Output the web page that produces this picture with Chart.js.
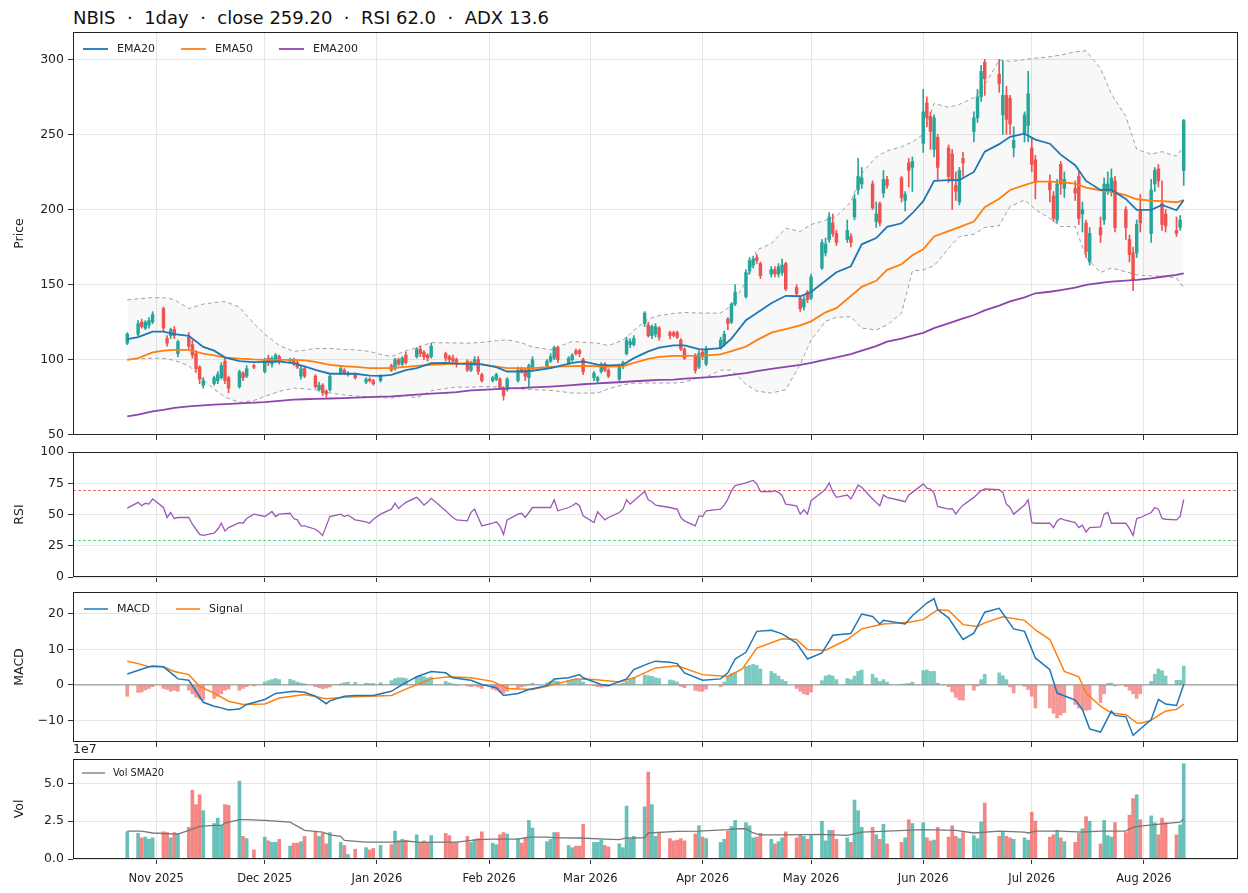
<!DOCTYPE html>
<html>
<head>
<meta charset="utf-8">
<title>NBIS 1day</title>
<script src="https://cdn.jsdelivr.net/npm/chart.js@4.4.1/dist/chart.umd.min.js"></script>
<style>
  html, body { margin: 0; padding: 0; background: #fff; }
  body { width: 1248px; height: 893px; position: relative; overflow: hidden; font-family: "DejaVu Sans", sans-serif; }
  .panel { position: absolute; left: 0; width: 1248px; }
  #title { position: absolute; left: 73px; top: 7px; font-size: 18px; line-height: 22px; color: #111; white-space: pre; }
</style>
</head>
<body>
<div id="title">NBIS  ·  1day  ·  close 259.20  ·  RSI 62.0  ·  ADX 13.6</div>
<div class="panel" style="top:0;height:445px"><canvas id="priceChart"></canvas></div>
<div class="panel" style="top:440px;height:145px"><canvas id="rsiChart"></canvas></div>
<div class="panel" style="top:580px;height:170px"><canvas id="macdChart"></canvas></div>
<div class="panel" style="top:740px;height:153px"><canvas id="volChart"></canvas></div>
<script>
// x values are calendar days counted from 2025-10-01
const X_MIN = 8, X_MAX = 330;
const monthDays = [31, 61, 92, 123, 151, 182, 212, 243, 273, 304];
const monthLabels = ['Nov 2025', 'Dec 2025', 'Jan 2026', 'Feb 2026', 'Mar 2026',
                     'Apr 2026', 'May 2026', 'Jun 2026', 'Jul 2026', 'Aug 2026'];

// trading days, one row per week
const tradeDays = [
  23,
  26, 27, 28, 29, 30,   33, 34, 35, 36, 37,   40, 41, 42, 43, 44,   47, 48, 49, 50, 51,
  54, 55, 56, 58,       61, 62, 63, 64, 65,   68, 69, 70, 71, 72,   75, 76, 77, 78, 79,
  82, 83, 84, 86,       89, 90, 91, 93,       96, 97, 98, 99, 100,  103, 104, 105, 106, 107,
  111, 112, 113, 114,   117, 118, 119, 120, 121,   124, 125, 126, 127, 128,   131, 132, 133, 134, 135,
  139, 140, 141, 142,   145, 146, 147, 148, 149,   152, 153, 154, 155, 156,   159, 160, 161, 162, 163,
  166, 167, 168, 169, 170,   173, 174, 175, 176, 177,   180, 181, 182, 183,   187, 188, 189, 190, 191,
  194, 195, 196, 197, 198,   201, 202, 203, 204, 205,   208, 209, 210, 211, 212,   215, 216, 217, 218, 219,
  222, 223, 224, 225, 226,   229, 230, 231, 232, 233,   237, 238, 239, 240,   243, 244, 245, 246, 247,
  250, 251, 252, 253, 254,   257, 258, 259, 260,   264, 265, 266, 267, 268,   271, 272, 273, 274,
  278, 279, 280, 281, 282,   285, 286, 287, 288, 289,   292, 293, 294, 295, 296,   299, 300, 301, 302, 303,
  306, 307, 308, 309, 310,   313, 314, 315
];
const openPx = [
  111,
  117, 125, 121, 123, 125,   134, 114, 116, 120, 104,   115, 110, 104, 95, 83,   84, 86, 88, 99, 88,
  82, 91, 89, 96,            92, 101, 97, 99, 102,     99, 100, 98, 89, 94,    89, 80, 83, 79, 80,
  91, 93, 90, 90,            85, 87, 86, 86,           96, 94, 100, 97, 103,   102, 107, 105, 103, 102,
  104, 102, 101, 100,        99, 93, 97, 100, 90,      86, 87, 87, 81, 80,     86, 94, 93, 88, 94,
  96, 99, 101, 108,          98, 100, 106, 106, 100,   88, 86, 92, 97, 93,     87, 96, 104, 110, 110,
  124, 123, 116, 117, 121,   118, 118, 118, 113, 107,  103, 95, 105, 97,       108, 110, 127, 125, 137,
  142, 159, 163, 168, 164,   157, 160, 157, 158, 164,  148, 141, 135, 145, 141, 161, 171, 180, 191, 184,
  180, 182, 195, 213, 217,   217, 192, 204, 211, 220,  221, 206, 231, 228,     244, 271, 262, 240, 248,
  241, 237, 216, 205, 234,   252, 261, 275, 298,       290, 263, 276, 274, 241, 251, 256, 241, 233,
  218, 209, 193, 230, 214,   214, 222, 197, 191, 165,  188, 193, 213, 213, 219, 200, 180, 171, 171, 199,
  184, 217, 227, 204, 197,   186, 188, 226
];
const highPx = [
  118,
  126, 127, 126, 128, 132,   135, 116, 121, 122, 113,   118, 113, 106, 96, 88,   89, 92, 98, 101, 89,
  93, 92, 96, 97,            101, 103, 102, 104, 103,  101, 101, 99, 96, 95,   90, 85, 84, 80, 90,
  96, 94, 92, 91,            88, 88, 87, 90,           97, 101, 101, 102, 105, 108, 109, 106, 104, 111,
  105, 103, 103, 101,        100, 99, 102, 102, 91,    89, 91, 88, 82, 88,     95, 95, 94, 97, 102,
  100, 104, 109, 109,        102, 104, 107, 107, 101,  92, 89, 98, 98, 94,     97, 99, 115, 114, 116,
  132, 125, 123, 124, 122,   119, 119, 119, 114, 108,  104, 106, 107, 109,     115, 119, 128, 138, 150,
  160, 168, 169, 170, 165,   162, 162, 164, 167, 165,  150, 142, 142, 146, 157, 180, 181, 198, 197, 186,
  193, 184, 210, 234, 228,   219, 205, 205, 226, 222,  222, 212, 234, 235,     280, 275, 265, 263, 250,
  243, 240, 225, 228, 238,   265, 280, 296, 300,       300, 299, 282, 276, 255, 265, 292, 248, 236,
  223, 212, 220, 232, 225,   219, 225, 205, 193, 188,  195, 221, 225, 227, 222, 202, 183, 175, 193, 210,
  220, 228, 230, 219, 200,   195, 196, 260
];
const lowPx = [
  110,
  116, 121, 120, 121, 124,   119, 109, 114, 114, 102,   107, 101, 92, 84, 81,   83, 84, 87, 84, 78,
  81, 86, 88, 94,            91, 96, 95, 98, 97,       98, 96, 94, 87, 88,     81, 79, 76, 75, 79,
  90, 90, 89, 87,            84, 85, 83, 85,           92, 93, 96, 96, 97,     101, 102, 100, 99, 101,
  99, 98, 97, 95,            92, 92, 96, 90, 85,       85, 86, 80, 73, 79,     85, 91, 86, 82, 93,
  95, 98, 100, 98,           97, 99, 103, 102, 90,     86, 84, 91, 92, 88,     86, 94, 103, 108, 109,
  122, 115, 114, 115, 113,   114, 115, 114, 106, 100,  91, 94, 100, 96,        107, 109, 120, 124, 136,
  141, 157, 161, 164, 154,   155, 155, 155, 156, 146,  142, 132, 133, 138, 140, 160, 169, 178, 182, 176,
  178, 175, 193, 210, 214,   200, 188, 189, 208, 214,  205, 199, 215, 212,     238, 255, 240, 235, 220,
  218, 200, 206, 203, 222,   245, 258, 272, 276,       278, 250, 250, 250, 235, 245, 245, 225, 207,
  205, 192, 191, 210, 208,   206, 190, 185, 168, 163,  178, 190, 210, 209, 185, 180, 165, 146, 168, 185,
  178, 212, 215, 186, 185,   182, 186, 216
];
const closePx = [
  117,
  124, 122, 125, 126, 130,   121, 111, 120, 116, 112,   109, 103, 94, 87, 86,   88, 90, 96, 86, 81,
  92, 88, 94, 95,            100, 98, 101, 103, 99,    100, 98, 95, 94, 89,    82, 83, 78, 77, 89,
  94, 91, 91, 88,            87, 86, 84, 89,           93, 100, 97, 101, 98,   107, 104, 102, 101, 109,
  101, 100, 99, 97,          93, 98, 100, 92, 86,      88, 90, 81, 76, 87,     93, 92, 89, 96, 100,
  99, 102, 108, 100,         101, 103, 104, 104, 92,   91, 88, 97, 93, 89,     95, 98, 113, 112, 114,
  131, 116, 122, 122, 115,   116, 116, 115, 107, 101,  93, 104, 102, 107,      113, 117, 124, 137, 145,
  158, 166, 167, 166, 156,   160, 157, 162, 163, 147,  144, 134, 140, 140, 155, 178, 177, 195, 184, 178,
  186, 178, 207, 222, 221,   201, 197, 191, 220, 216,  208, 210, 226, 232,     265, 261, 252, 261, 228,
  222, 219, 212, 226, 231,   261, 275, 292, 287,       284, 276, 260, 257, 246, 263, 277, 230, 218,
  213, 194, 217, 217, 220,   211, 194, 200, 172, 184,  183, 217, 217, 221, 188, 188, 170, 153, 190, 191,
  213, 226, 219, 190, 189,   184, 193, 259.2
];
// volume in units of 1e7
const volume = [
  1.8,
  1.7, 1.4, 1.45, 1.3, 1.4,    1.8, 1.75, 1.4, 1.75, 1.7,   2.1, 4.55, 3.6, 4.25, 3.2,   2.35, 2.7, 2.2, 3.6, 3.55,
  5.15, 1.5, 1.35, 0.6,        1.45, 1.2, 1.1, 1.1, 1.3,    0.85, 1.05, 1.05, 1.15, 1.5, 1.8, 1.5, 1.7, 1.0, 1.75,
  1.1, 0.9, 0.3, 0.65,         0.75, 0.6, 0.7, 0.9,         0.95, 1.85, 1.2, 1.3, 1.2,   1.6, 1.1, 1.2, 1.1, 1.55,
  1.7, 1.55, 1.1, 1.1,         1.5, 1.1, 1.3, 1.35, 1.8,    1.05, 0.95, 1.6, 1.75, 1.65, 1.35, 1.05, 1.4, 2.55, 2.05,
  1.15, 1.3, 1.75, 1.75,       0.9, 0.75, 0.85, 0.85, 2.3,  1.1, 1.1, 1.25, 0.9, 0.8,    1.0, 0.75, 3.5, 1.3, 1.5,
  3.45, 5.75, 3.6, 1.5, 1.7,   1.35, 1.2, 1.25, 1.35, 1.2,  1.65, 2.2, 1.45, 1.35,       1.1, 1.3, 1.85, 2.15, 2.55,
  2.4, 2.2, 1.4, 1.45, 1.7,    1.3, 1.0, 1.15, 1.4, 1.8,    1.4, 1.6, 1.5, 1.3, 1.55,    2.5, 1.2, 1.9, 1.9, 1.3,
  1.4, 1.1, 3.9, 3.2, 2.1,     2.1, 1.6, 1.3, 2.3, 1.0,     1.1, 1.4, 2.6, 2.35,         2.4, 1.4, 1.2, 1.25, 2.1,
  1.45, 2.2, 1.5, 1.35, 1.75,  1.55, 1.35, 2.45, 3.7,       1.5, 1.8, 1.5, 1.4, 1.3,     1.4, 1.25, 3.1, 2.5,
  1.45, 1.6, 1.9, 1.4, 1.15,   1.1, 1.7, 2.0, 2.8, 2.5,     1.0, 2.55, 1.55, 1.45, 2.4,  1.75, 2.9, 4.0, 4.25, 2.6,
  2.85, 2.4, 1.6, 2.7, 2.4,    1.6, 2.25, 6.3
];
const rsiVals = [
  55.1,
  59.7, 57, 59, 58.3, 62.4,    55.6, 47.6, 51.6, 46.8, 47.6,  47.6, 42.2, 38.2, 34.1, 33.3,  35, 38.2, 43, 36.8, 39.5,
  43.5, 43, 46.8, 50.3,        48.4, 50.3, 52.4, 48.4, 50.3,  51, 46.8, 45.7, 40.9, 40.9,    38.2, 36, 33.3, 40.9, 48.4,
  50.3, 48.4, 49.5, 45.7,      44.1, 43, 46.2, 50.3,          54.3, 59.1, 54.8, 57.5, 59.7,  63.7, 61, 57.5, 59.7, 62.9,
  53, 50.3, 47.6, 45.7,        44.9, 51.6, 54.3, 47.6, 40.9,  43, 44.1, 40.9, 34.1, 45.7,    50.3, 51, 47.6, 51.6, 55.6,
  55.6, 55.6, 61.8, 53,        55.6, 57, 59.1, 57, 48.9,      43.5, 52.2, 48.9, 45.7, 47.6,  51.6, 54.3, 61.8, 58.3, 61,
  68.3, 61.8, 60.2, 57.5, 57,  55.6, 54.8, 54.3, 47.6, 44.9,  40.9, 48.9, 48.4, 53,          54.3, 57.5, 62.4, 69.1, 73.1,
  75.3, 76.3, 77.2, 74.5, 68.3, 68.3, 69.1, 67.7, 65, 58.3,   57, 50.3, 53.8, 50.3, 61,      67.7, 70.4, 75.3, 68.3, 63.7,
  65.6, 62.4, 67.7, 73.7, 71.8, 62.4, 59.7, 57, 65.6, 63.7,   61, 60.2, 65.6, 67.7,          74.5, 71, 70.4, 67.2, 56.5,
  54.3, 54.8, 50.3, 54.3, 57.5, 63.7, 66.4, 69.1, 70.4,       69.9, 67.7, 58.3, 55.6, 50.3,  57.5, 61.8, 43.5, 43,
  43, 39.5, 44.9, 46.8, 45.7,  43.5, 39.5, 41.4, 36, 39.5,    40.1, 50.3, 51.6, 43, 43,      43, 38.7, 33.3, 46.8, 47.6,
  51.6, 55.6, 54.3, 46.8, 46.2, 45.7, 48.4, 62.0
];
const rsiLevels = [70, 30];
const rsiLevelColors = ['#e74c3c', '#2ecc71'];
const macdHist = [
  -3.2,
  -2.1, -2.0, -1.4, -1.0, -0.5,  -1.0, -1.3, -1.8, -1.5, -1.8,  -1.5, -2.5, -3.5, -4.0, -4.3,  -3.8, -3.2, -2.5, -1.5, -1.2,
  -1.5, -1.0, -0.5, -0.3,        0.8, 1.2, 1.5, 1.8, 1.5,       1.6, 1.2, 0.8, 0.5, 0.3,       -0.5, -0.8, -1.1, -0.9, -0.6,
  0.3, 0.6, 0.8, 0.7,            0.5, 0.4, 0.4, 0.6,            1.2, 1.8, 2.0, 2.0, 1.8,       2.2, 2.5, 2.3, 2.0, 2.2,
  1.0, 0.6, 0.3, -0.2,           -0.3, -0.5, -0.3, -0.6, -1.0,  -1.2, -1.5, -2.0, -2.4, -1.8,  -1.0, -0.6, -0.3, 0.2, 0.5,
  0.6, 0.9, 1.2, 1.0,            1.3, 1.5, 1.6, 1.4, 0.8,       -0.2, -0.5, -0.6, -0.4, -0.3,  0.2, 0.5, 1.0, 1.5, 2.0,
  2.8, 2.6, 2.4, 2.0, 1.8,       1.4, 1.2, 0.8, -0.4, -0.8,     -1.5, -1.8, -1.8, -1.2,        -0.5, 0.8, 2.5, 3.2, 3.5,
  5.2, 5.5, 5.8, 5.5, 4.5,       3.8, 3.2, 2.5, 1.5, 1.0,       -1.0, -1.8, -2.5, -2.8, -2.0,  1.2, 2.5, 2.8, 2.5, 1.5,
  1.8, 1.5, 2.5, 3.8, 4.2,       3.0, 2.0, 1.0, 1.5, 0.8,       0.2, 0.3, 0.4, 0.8,            4.0, 4.2, 3.8, 3.8, 0.5,
  -0.5, -2.0, -3.5, -4.2, -4.3,  -1.5, -0.3, 1.5, 3.0,          3.4, 2.6, 1.5, -0.6, -2.3,     -0.4, -1.3, -3.2, -6.5,
  -6.5, -8.0, -9.3, -8.5, -7.8,  -5.5, -6.5, -7.0, -7.2, -7.0,  -5.0, -2.5, 0.4, 0.5, -0.3,    -0.5, -1.5, -2.5, -3.8, -2.5,
  1.0, 3.0, 4.5, 4.0, 2.5,       1.3, 1.3, 5.3
];

// smooth overlays
const lineDays = [23, 26, 30, 33, 36, 40, 44, 47, 50, 54, 58, 61, 65, 69, 72, 75, 79, 83, 86, 90,
  93, 96, 100, 103, 107, 111, 114, 118, 121, 125, 128, 132, 135, 140, 142, 146, 149, 153, 156, 160,
  163, 167, 170, 174, 177, 181, 183, 187, 190, 194, 197, 201, 205, 209, 212, 216, 219, 223, 226, 230,
  233, 237, 240, 243, 246, 250, 253, 257, 260, 264, 267, 271, 274, 278, 281, 285, 288, 292, 295, 299,
  302, 306, 309, 313, 315];
const ema20 = [113.6, 115, 118.7, 118.7, 117, 115.9, 108.5, 106, 101.5, 99, 98.3, 98.5, 98.8, 97.5, 95.5,
  93.2, 90.6, 90.6, 90.6, 89.3, 89.2, 89.8, 93, 94.3, 97.7, 97.8, 97.3, 97.2, 96.8, 95,
  92.1, 92.1, 92.6, 94.3, 95.5, 97.9, 98.8, 96.6, 96.2, 96.5, 101, 105.5, 108, 109.5, 109.5,
  107, 106.8, 107.6, 114, 126.2, 131, 137.5, 142.5, 142.2, 145, 152.5, 158.2, 162.2, 176.8, 181,
  188.4, 190.8, 197.5, 205.5, 219, 219.6, 219.6, 225, 238.5, 243.5, 248.4, 250.5, 246.5, 243.8, 236.5,
  229.5, 219, 213, 213, 207, 199.8, 199.7, 203, 199.5, 206.3];
const ema50 = [99.9, 101, 104.8, 106, 106.5, 106.5, 104, 102.8, 101.4, 100.6, 100.1, 99.9, 99.9, 99.9, 99.5,
  98.5, 96.5, 95.6, 95.2, 94.3, 94.3, 94.3, 95.2, 95.8, 96.5, 97.1, 97.3, 97.7, 96.8, 95.4,
  94.3, 94.3, 94.3, 95.1, 95.4, 95.7, 95.9, 95.6, 95.4, 95.6, 97.8, 100.5, 101.8, 102.5, 102.5,
  102.6, 102.8, 103.5, 105.6, 108.7, 113, 118, 120.3, 122.8, 125.5, 131.5, 134.3, 142.4, 148.5, 152.5,
  159.8, 163.5, 169.5, 173.5, 182, 185.6, 188.3, 192, 201.5, 207.2, 213, 216.2, 218.5, 218.5, 218.2,
  217.2, 214.5, 212.8, 211.8, 209.5, 206.8, 205.9, 205.5, 204.8, 206.3];
const ema200 = [62.2, 63.3, 65.5, 66.5, 67.8, 68.8, 69.5, 70, 70.4, 70.9, 71.3, 71.7, 72.5, 73.3, 73.6,
  73.8, 74.1, 74.4, 74.7, 75, 75.3, 75.5, 76.2, 76.7, 77.3, 77.8, 78.3, 79.5, 79.9, 80.4,
  80.8, 81.1, 81.5, 82, 82.3, 83, 83.6, 84.2, 84.6, 85.1, 85.6, 86.1, 86.5, 86.7, 87.3,
  87.9, 88.2, 88.8, 89.8, 91, 92.4, 93.8, 95.2, 96.5, 97.8, 100, 101.5, 103.6, 106, 109,
  112, 114, 116, 117.8, 121, 124.2, 126.6, 129.7, 132.8, 136, 138.8, 141.5, 144.2, 145.2, 146.3,
  147.9, 149.8, 151.1, 152, 152.6, 153.1, 154.1, 155.2, 156.5, 157.5];
const bbUpper = [139.8, 140.5, 141.3, 141.2, 140, 134, 137, 138, 138.7, 135, 124, 117, 109.5, 105.5, 106.2,
  107.4, 107.4, 106.8, 106.5, 105.5, 103.5, 102.1, 105.8, 108, 111.3, 111.2, 111.1, 111, 111.5, 112.6,
  113.2, 111.2, 108.5, 106.5, 108.5, 112.1, 111.5, 111, 109.3, 113, 119.5, 127, 129.3, 130.8, 131.4,
  131, 131, 131, 136, 152, 173, 177.3, 187.5, 185.3, 190, 192.8, 195.5, 205, 224.1, 235,
  239, 241.8, 245, 250, 270.6, 268, 270, 274.5, 283, 299.5, 298.6, 299.8, 300.8, 301.7, 302.8,
  305, 305.7, 294, 277, 262, 240, 236.8, 238.5, 235.5, 241.8];
const bbLower = [99.9, 100.5, 101, 100.8, 99.5, 96, 86.3, 80.3, 75, 71.5, 72.8, 75.5, 78.8, 81, 80.6,
  79.9, 77.8, 76.4, 75.8, 75.2, 74.8, 74.3, 76, 74.4, 79.3, 80.8, 81.7, 81.6, 82, 81.8,
  81.1, 80.4, 80, 79.5, 79, 77.7, 77.7, 77.7, 80.5, 83.2, 84.3, 84.4, 84.4, 84.4, 85,
  88, 88.5, 93, 93, 83.5, 79, 77.7, 80, 97, 113, 125.5, 128.2, 128.6, 121, 119.8,
  123, 131, 159, 159.8, 162.5, 174, 182, 183.5, 188, 189.2, 202, 206.3, 200, 194, 188.6,
  188.6, 168, 158, 161, 158.5, 156.4, 155.8, 155.5, 154.4, 147.6];

const macdDays = [23, 29, 30, 33, 36, 37, 40, 44, 47, 48, 51, 54, 56, 61, 64, 69, 72, 75, 78, 79,
  83, 86, 91, 96, 99, 103, 107, 111, 113, 118, 121, 125, 127, 131, 134, 139, 141, 145, 148, 149,
  154, 156, 161, 163, 167, 169, 173, 175, 177, 182, 187, 189, 191, 194, 197, 201, 204, 208, 211, 215,
  218, 223, 226, 229, 231, 232, 238, 240, 244, 246, 247, 250, 254, 257, 260, 264, 268, 271, 274, 278,
  280, 285, 287, 289, 292, 295, 296, 299, 301, 306, 308, 310, 313, 315];
const macdLine = [3.1, 5.1, 5.3, 5.1, 2.6, 1.7, 1.3, -4.9, -6.0, -6.2, -7.1, -6.8, -5.5, -4.1, -2.4, -1.8, -2.1, -3.2, -5.3, -4.5,
  -3.2, -3.0, -3.0, -1.8, 0.1, 2.3, 3.8, 3.4, 2.0, 1.3, 0.1, -0.8, -3.0, -2.4, -1.3, -0.2, 1.7, 2.0, 2.9, 2.0,
  0.1, -0.2, 1.7, 4.3, 6.0, 6.7, 6.4, 6.0, 3.4, 1.3, 1.7, 3.4, 7.3, 9.2, 15.1, 15.4, 14.4, 11.8, 7.3, 9.0,
  14.0, 14.5, 20.0, 19.3, 17.2, 18.2, 17.2, 19.5, 23.1, 24.3, 21.2, 18.9, 12.8, 14.6, 20.5, 21.6, 15.8, 15.1, 7.6, 4.3,
  -2.3, -4.3, -6.9, -12.4, -13.3, -7.4, -8.6, -9.0, -14.2, -9.8, -4.1, -5.4, -5.8, 0.1];
const sigDays = [23, 26, 29, 33, 36, 40, 43, 47, 51, 55, 61, 65, 72, 78, 84, 96, 100, 107, 112, 118,
  124, 128, 135, 141, 147, 152, 159, 163, 169, 175, 182, 189, 193, 197, 204, 208, 211, 216, 222, 226,
  232, 239, 243, 247, 250, 254, 258, 260, 265, 271, 272, 274, 278, 282, 286, 288, 292, 295, 299, 302,
  303, 306, 308, 310, 313, 315];
const sigLine = [6.7, 6.0, 5.1, 5.1, 3.8, 2.9, -0.4, -2.3, -4.6, -5.5, -5.4, -3.7, -2.7, -3.9, -3.4, -3.0, -1.2, 1.7, 2.3, 2.0,
  1.0, -1.0, -1.3, 0.1, 1.7, 1.5, 0.8, 2.0, 4.8, 5.4, 2.9, 2.4, 4.5, 10.4, 13.0, 12.8, 10.0, 9.8, 12.8, 15.8,
  17.2, 17.7, 18.4, 21.2, 21.0, 17.0, 16.5, 17.5, 19.2, 18.2, 17.3, 15.5, 12.8, 3.8, 2.3, -2.3, -6.0, -7.9, -8.4, -10.7,
  -10.8, -10.0, -8.6, -7.4, -6.9, -5.4];

const volSmaDays = [23, 27, 30, 37, 40, 43, 47, 49, 50, 54, 56, 61, 68, 72, 77, 79, 82, 83, 89, 96,
  100, 104, 111, 114, 120, 124, 131, 134, 139, 142, 148, 155, 159, 161, 163, 166, 167, 175, 181, 189,
  192, 194, 196, 198, 205, 215, 222, 226, 233, 243, 252, 257, 264, 271, 272, 274, 281, 287, 292, 299,
  301, 303, 309, 314, 315];
const volSma = [1.85, 1.85, 1.72, 1.65, 1.9, 2.16, 2.22, 2.22, 2.38, 2.6, 2.6, 2.55, 2.44, 1.89, 1.78, 1.6, 1.5, 1.23, 1.12, 1.12,
  1.19, 1.1, 1.12, 1.12, 1.28, 1.32, 1.32, 1.45, 1.45, 1.4, 1.39, 1.32, 1.28, 1.39, 1.39, 1.41, 1.72, 1.83, 1.85, 1.94,
  2.0, 2.0, 1.72, 1.6, 1.59, 1.63, 1.56, 1.78, 1.85, 1.94, 1.89, 1.72, 1.85, 1.78, 1.72, 1.85, 1.85, 1.78, 1.85, 1.85,
  2.11, 2.18, 2.33, 2.44, 2.66];

// ---------------------------------------------------------------
Chart.defaults.font.family = '"DejaVu Sans", sans-serif';
Chart.defaults.color = '#222';

const GRID = '#e6e6e6';
const UP = '#26a69a', DOWN = '#ef5350';
const isUp = closePx.map((c, i) => c >= openPx[i]);
const pts = (xs, ys) => xs.map((x, i) => ({ x: x, y: ys[i] }));

function line(data, color, width, extra) {
  return Object.assign({ type: 'line', data: data, borderColor: color, borderWidth: width,
    pointRadius: 0, fill: false, tension: 0 }, extra || {});
}

function xAxis(height, showLabels) {
  return {
    type: 'linear', min: X_MIN, max: X_MAX, offset: false,
    afterBuildTicks: s => { s.ticks = monthDays.map(v => ({ value: v })); },
    afterFit: s => { s.height = height; s.paddingLeft = 0; s.paddingRight = 0; },
    grid: { color: GRID, offset: false, tickLength: 5, tickColor: '#333' },
    border: { display: false },
    ticks: { display: showLabels, autoSkip: false, maxRotation: 0, padding: 8,
      font: { size: 11.5 }, callback: (v, i) => monthLabels[i] }
  };
}

function yAxis(title, min, max, values, fmt) {
  return {
    min: min, max: max,
    afterBuildTicks: s => { s.ticks = values.map(v => ({ value: v })); },
    // fixed width, and no extra room for the end labels so the plot box stays put
    afterFit: s => { s.width = 73; s.paddingTop = 0; s.paddingBottom = 0; },
    grid: { color: GRID, tickLength: 5, tickColor: '#333' },
    border: { display: false },
    ticks: { padding: 4, font: { size: 12.5 }, callback: fmt },
    title: { display: true, text: title, font: { size: 12.5 }, padding: { top: 12.5, bottom: 0 } }
  };
}

const minus = v => (v < 0 ? '\u2212' + Math.abs(v) : String(v));

// box round every panel
const framePlugin = {
  id: 'frame',
  afterDatasetsDraw(chart) {
    const { ctx, chartArea: a } = chart;
    ctx.save();
    ctx.strokeStyle = '#222';
    ctx.lineWidth = 1;
    ctx.strokeRect(Math.round(a.left) + 0.5, Math.round(a.top) + 0.5,
      Math.round(a.right - a.left) - 1, Math.round(a.bottom - a.top) - 1);
    ctx.restore();
  }
};

// dashed overbought / oversold guides
const levelLines = {
  id: 'levelLines',
  beforeDatasetsDraw(chart) {
    const { ctx, chartArea: a, scales } = chart;
    ctx.save();
    ctx.lineWidth = 1;
    ctx.setLineDash([3, 2]);
    rsiLevels.forEach((lv, i) => {
      const y = Math.round(scales.y.getPixelForValue(lv)) + 0.5;
      ctx.strokeStyle = rsiLevelColors[i];
      ctx.globalAlpha = 0.8;
      ctx.beginPath(); ctx.moveTo(a.left, y); ctx.lineTo(a.right, y); ctx.stroke();
    });
    ctx.restore();
  }
};

// small legend drawn inside the upper left corner
function inLegend(items, cfg) {
  return {
    id: 'inLegend',
    afterDatasetsDraw(chart) {
      const { ctx, chartArea: a } = chart;
      ctx.save();
      ctx.font = cfg.size + 'px "DejaVu Sans"';
      ctx.textBaseline = 'middle';
      let x = a.left + cfg.dx;
      const y = a.top + cfg.dy;
      items.forEach(it => {
        ctx.strokeStyle = it.color;
        ctx.lineWidth = cfg.lw;
        ctx.beginPath(); ctx.moveTo(x, y); ctx.lineTo(x + cfg.handle, y); ctx.stroke();
        ctx.fillStyle = '#222';
        ctx.fillText(it.label, x + cfg.handle + cfg.pad, y);
        x += cfg.handle + cfg.pad + ctx.measureText(it.label).width + cfg.gap;
      });
      ctx.restore();
    }
  };
}

function baseOptions(padTop, scales) {
  return {
    responsive: true, maintainAspectRatio: false, animation: false, events: [],
    layout: { padding: { top: padTop, right: 10, left: 0, bottom: 0 } },
    plugins: { legend: { display: false }, tooltip: { enabled: false } },
    scales: scales
  };
}

// price panel
new Chart(document.getElementById('priceChart'), {
  type: 'bar',
  data: { datasets: [
    line(pts(lineDays, ema20), '#1f77b4', 1.8, { order: 1 }),
    line(pts(lineDays, ema50), '#ff7f0e', 1.8, { order: 1 }),
    line(pts(lineDays, ema200), '#8e44ad', 1.8, { order: 1 }),
    { type: 'bar', order: 2, grouped: false, barThickness: 2.8, borderWidth: 0,
      data: tradeDays.map((d, i) => ({ x: d, y: [openPx[i], closePx[i]] })),
      backgroundColor: isUp.map(u => (u ? UP : DOWN)) },
    { type: 'bar', order: 3, grouped: false, barThickness: 1, borderWidth: 0,
      data: tradeDays.map((d, i) => ({ x: d, y: [lowPx[i], highPx[i]] })),
      backgroundColor: isUp.map(u => (u ? UP : DOWN)) },
    line(pts(lineDays, bbUpper), '#a0a0a0', 1, { order: 4, borderDash: [4, 3],
      fill: '+1', backgroundColor: 'rgba(128,128,128,0.06)' }),
    line(pts(lineDays, bbLower), '#a0a0a0', 1, { order: 4, borderDash: [4, 3] })
  ]},
  options: baseOptions(32, {
    x: xAxis(10, false),
    y: yAxis('Price', 49.8, 318.2, [50, 100, 150, 200, 250, 300], v => String(v))
  }),
  plugins: [framePlugin, inLegend(
    [{ label: 'EMA20', color: '#1f77b4' }, { label: 'EMA50', color: '#ff7f0e' }, { label: 'EMA200', color: '#8e44ad' }],
    { size: 11, dx: 10, dy: 17, handle: 25, pad: 9, gap: 26, lw: 1.8 })]
});

// RSI panel
new Chart(document.getElementById('rsiChart'), {
  type: 'line',
  data: { datasets: [
    line(pts(tradeDays, rsiVals), '#9b59b6', 1.3)
  ]},
  options: baseOptions(12, {
    x: xAxis(8, false),
    y: yAxis('RSI', 0, 100, [0, 25, 50, 75, 100], v => String(v))
  }),
  plugins: [framePlugin, levelLines]
});

// MACD panel
new Chart(document.getElementById('macdChart'), {
  type: 'bar',
  data: { datasets: [
    line(pts(macdDays, macdLine), '#1f77b4', 1.5, { order: 1 }),
    line(pts(sigDays, sigLine), '#ff7f0e', 1.5, { order: 1 }),
    line(pts([X_MIN, X_MAX], [0, 0]), '#8a8a8a', 1, { order: 2 }),
    { type: 'bar', order: 3, grouped: false, barThickness: 3, borderWidth: 0,
      data: pts(tradeDays, macdHist),
      backgroundColor: macdHist.map(h => (h >= 0 ? 'rgba(38,166,154,0.6)' : 'rgba(239,83,80,0.6)')) }
  ]},
  options: baseOptions(12, {
    x: xAxis(8, false),
    y: yAxis('MACD', -16.1, 26.2, [-10, 0, 10, 20], minus)
  }),
  plugins: [framePlugin, inLegend(
    [{ label: 'MACD', color: '#1f77b4' }, { label: 'Signal', color: '#ff7f0e' }],
    { size: 11, dx: 11, dy: 17, handle: 24, pad: 9, gap: 26, lw: 1.5 })]
});

// volume panel
const offsetLabel = {
  id: 'offsetLabel',
  afterDraw(chart) {
    const { ctx, chartArea: a } = chart;
    ctx.save();
    ctx.font = '12.5px "DejaVu Sans"';
    ctx.fillStyle = '#222';
    ctx.textBaseline = 'bottom';
    ctx.fillText('1e7', a.left, a.top - 3);
    ctx.restore();
  }
};

new Chart(document.getElementById('volChart'), {
  type: 'bar',
  data: { datasets: [
    line(pts(volSmaDays, volSma), '#777777', 1.3, { order: 1 }),
    { type: 'bar', order: 2, grouped: false, barThickness: 3, borderWidth: 0,
      data: pts(tradeDays, volume),
      backgroundColor: isUp.map(u => (u ? 'rgba(38,166,154,0.7)' : 'rgba(239,83,80,0.7)')) }
  ]},
  options: baseOptions(19, {
    x: xAxis(34, true),
    y: yAxis('Vol', 0, 6.615, [0, 2.5, 5], v => v.toFixed(1))
  }),
  plugins: [framePlugin, offsetLabel, inLegend(
    [{ label: 'Vol SMA20', color: '#777777' }],
    { size: 9.7, dx: 9, dy: 14, handle: 23, pad: 8, gap: 20, lw: 1.3 })]
});
</script>
</body>
</html>
